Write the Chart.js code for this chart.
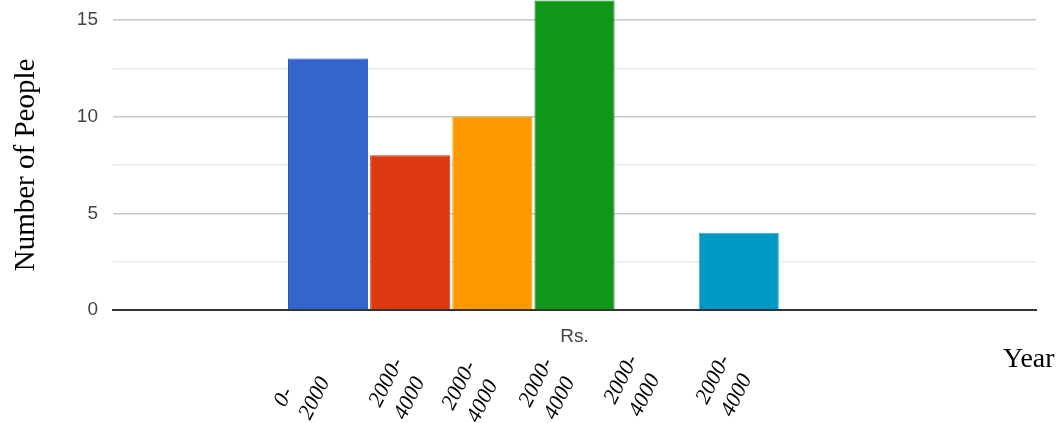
<!DOCTYPE html>
<html>
<head>
<meta charset="utf-8">
<title>Number of People by Income</title>
<script src="https://cdn.jsdelivr.net/npm/chart.js@4.4.1/dist/chart.umd.min.js"></script>
<style>
  html, body { margin: 0; padding: 0; background: #fff; }
  #incomeChart { display: block; }
</style>
</head>
<body>
<canvas id="incomeChart" width="1061" height="423"></canvas>
<script>
// Chart data
const categories = ['Rs.'];
const seriesNames = ['Group 1', 'Group 2', 'Group 3', 'Group 4', 'Group 5', 'Group 6', 'Group 7'];
const seriesValues = [13, 8, 10, 16, 0, 4, 0];
const seriesColors = ['#3366cc', '#dc3912', '#ff9900', '#109618', '#990099', '#0099c6', '#dd4477'];
const seriesBorders = ['#2755b8', '#c4300d', '#f59300', '#0a7f12', '#990099', '#3aa9d0', '#dd4477'];
const rangeLabels = [['0-', '2000'], ['2000-', '4000'], ['2000-', '4000'], ['2000-', '4000'], ['2000-', '4000'], ['2000-', '4000']];
const yTickLabels = [0, 5, 10, 15];
const yGridValues = [0, 2.5, 5, 7.5, 10, 12.5, 15];
const yTitle = 'Number of People';
const xTitle = 'Year';

const axisFont = { family: '"Liberation Sans Narrow", "Liberation Sans", Arial, sans-serif', size: 19 };

// rotated range labels under the axis, plus axis titles in serif type
const annotationPlugin = {
    id: 'annotations',
    afterDraw(chart) {
        const ctx = chart.ctx;
        const area = chart.chartArea;
        ctx.save();
        ctx.fillStyle = '#000';

        // y title
        ctx.font = '29px "Liberation Serif"';
        ctx.textAlign = 'center';
        ctx.textBaseline = 'alphabetic';
        ctx.save();
        ctx.translate(34, 165);
        ctx.rotate(-Math.PI / 2);
        ctx.fillText(yTitle, 0, 0);
        ctx.restore();

        // x title
        ctx.textAlign = 'left';
        ctx.font = '28px "Liberation Serif"';
        ctx.fillText(xTitle, area.right - 33, area.bottom + 57);

        // range labels
        const anchors = [[285, 408], [380, 408], [453, 411], [530, 408], [615, 405], [707, 405]];
        ctx.font = 'italic 22px "Liberation Serif"';
        rangeLabels.forEach((lines, i) => {
            ctx.save();
            ctx.translate(anchors[i][0], anchors[i][1]);
            ctx.rotate(-63 * Math.PI / 180);
            lines.forEach((line, j) => {
                ctx.fillText(line, 0, j * 28);
            });
            ctx.restore();
        });
        ctx.restore();
    }
};

const datasets = seriesValues.map((v, i) => ({
    label: seriesNames[i],
    data: [v],
    backgroundColor: seriesColors[i],
    borderColor: seriesBorders[i],
    borderWidth: 1,
    barPercentage: 0.975,
    categoryPercentage: 0.623
}));

const ctx = document.getElementById('incomeChart').getContext('2d');
new Chart(ctx, {
    type: 'bar',
    data: { labels: categories, datasets: datasets },
    options: {
        responsive: false,
        animation: false,
        devicePixelRatio: 1,
        layout: { padding: { top: 0, right: 25, bottom: 0, left: 0 } },
        plugins: {
            legend: { display: false },
            tooltip: { enabled: false }
        },
        scales: {
            x: {
                grid: { display: false, drawTicks: false },
                border: { display: true, color: '#333', width: 2 },
                ticks: {
                    color: '#444',
                    font: axisFont,
                    padding: 15
                },
                afterFit(scale) {
                    scale.height = 113;
                    scale.paddingLeft = 0;
                    scale.paddingRight = 0;
                }
            },
            y: {
                min: 0,
                max: 16.03,
                afterBuildTicks(scale) {
                    scale.ticks = yGridValues.map(v => ({ value: v }));
                },
                grid: {
                    drawTicks: false,
                    color: (c) => {
                        const v = c.tick ? c.tick.value : null;
                        if (v === 0) return 'rgba(0,0,0,0)';
                        return v % 5 === 0 ? '#c8c8c8' : '#ebebeb';
                    },
                    lineWidth: 1.5
                },
                border: { display: false },
                ticks: {
                    color: '#444',
                    font: axisFont,
                    padding: 15,
                    callback: (v) => yTickLabels.includes(v) ? String(v) : ''
                },
                afterFit(scale) {
                    scale.width = 113;
                    scale.paddingTop = 0;
                    scale.paddingBottom = 0;
                }
            }
        }
    },
    plugins: [annotationPlugin]
});
</script>
</body>
</html>
